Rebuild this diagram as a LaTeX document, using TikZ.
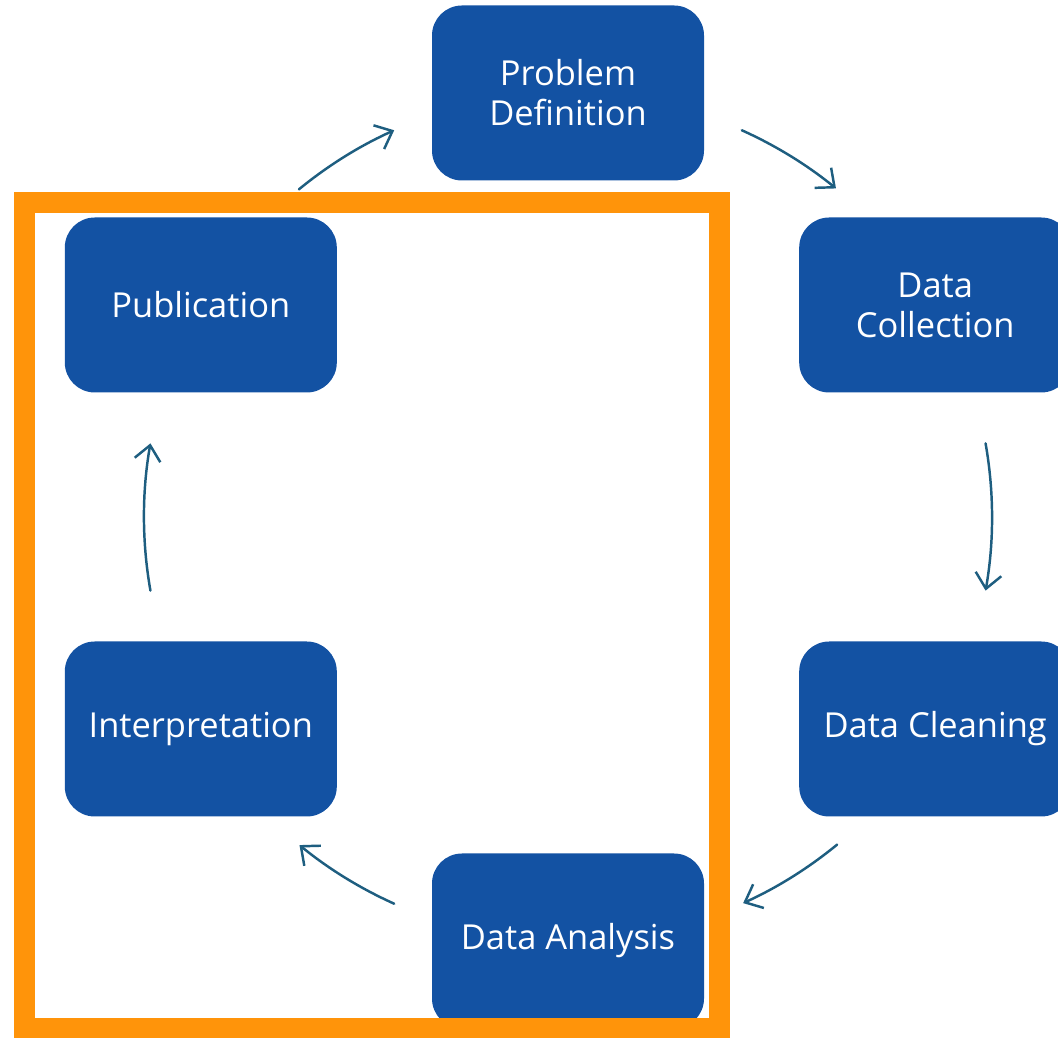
\documentclass[tikz,border=0pt]{standalone}
\usepackage{fontspec}
\setmainfont{Open Sans}
\usetikzlibrary{arrows.meta}

\definecolor{stageblue}{RGB}{19,82,163}
\definecolor{flowteal}{RGB}{30,94,128}
\definecolor{frameorange}{RGB}{255,148,10}

\begin{document}
\begin{tikzpicture}[line cap=round, line join=round,
	stage/.style={fill=stageblue, rounded corners=0.6cm, minimum width=5.44cm,
		minimum height=3.5cm, inner sep=0pt, text=white, align=center,
		font=\fontsize{19.6}{22.8}\selectfont},
	flow/.style={flowteal, line width=1.4pt,
		-{Straight Barb[length=0.3cm, width=0.52cm]}}]
	
	% page size of the reference (1058 x 1038 px)
	\useasboundingbox (0,0) rectangle (21.16,20.76);
	\clip (0,0) rectangle (21.16,20.76);
	
	% radius of the cycle
	\def\R{8.48}
	
	\begin{scope}[shift={(11.36,10.42)}]
		% the six stages, 60 degrees apart
		\node[stage] (prob)  at (90:\R)  {Problem\\Definition};
		\node[stage] (coll)  at (30:\R)  {Data\\Collection};
		\node[stage] (clean) at (-30:\R) {Data Cleaning};
		\node[stage] (anal)  at (-90:\R) {Data Analysis};
		\node[stage] (interp) at (210:\R) {Interpretation};
		\node[stage] (publ)  at (150:\R) {Publication};
		
		% start points of the arrows on the same circle
		\coordinate (f1) at (129.4:\R);
		\coordinate (f2) at (65.8:\R);
		\coordinate (f3) at (10:\R);
		\coordinate (f4) at (-50.6:\R);
		\coordinate (f5) at (-114.2:\R);
		\coordinate (f6) at (190:\R);
		
		% arrows between the stages
		\draw[flow] (f1) arc[start angle=129.4, end angle=114.2, radius=\R];
		\draw[flow] (f2) arc[start angle=65.8, end angle=50.8, radius=\R];
		\draw[flow] (f3) arc[start angle=10, end angle=-10, radius=\R];
		\draw[flow] (f4) arc[start angle=-50.6, end angle=-65.6, radius=\R];
		\draw[flow] (f5) arc[start angle=-114.2, end angle=-129.3, radius=\R];
		\draw[flow] (f6) arc[start angle=190, end angle=170, radius=\R];
	\end{scope}
	
	% highlight frame round the last stages
	\draw[frameorange, line width=0.42cm, line cap=butt, line join=miter]
	(0.49,0.19) rectangle (14.39,16.71);
	
\end{tikzpicture}
\end{document}
